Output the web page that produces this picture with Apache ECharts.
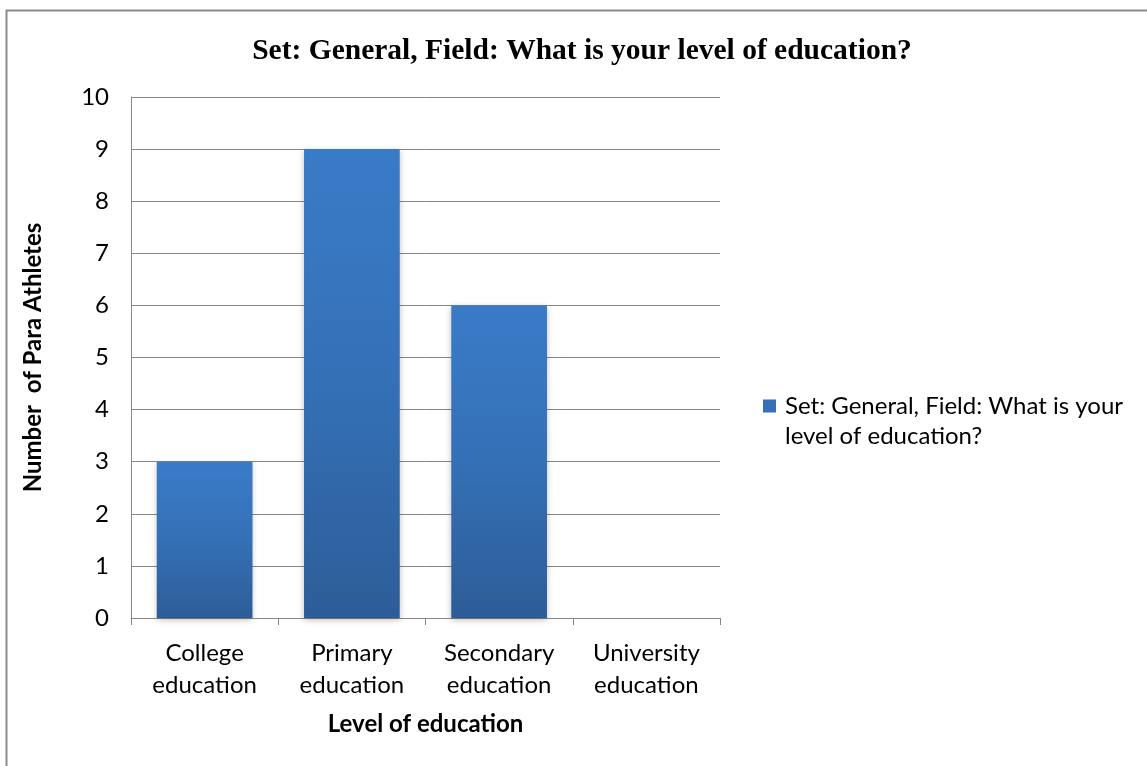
<!DOCTYPE html>
<html>
<head>
<meta charset="utf-8">
<script src="https://cdn.jsdelivr.net/npm/echarts@6/dist/echarts.min.js"></script>
<style>
html,body{margin:0;padding:0;background:#fff;}
#chart{width:1147px;height:766px;}
</style>
</head>
<body>
<div id="chart"></div>
<script>
const categories = ['College\neducation', 'Primary\neducation', 'Secondary\neducation', 'University\neducation'];
const values = [3, 9, 6, 0];
const seriesName = 'Set: General, Field: What is your level of education?';
const legendLines = ['Set: General, Field: What is your', 'level of education?'];
const titleText = 'Set: General, Field: What is your level of education?';
const yAxisName = 'Number  of Para Athletes';
const xAxisName = 'Level of education';

const chart = echarts.init(document.getElementById('chart'), null, {renderer: 'canvas'});
const labelFont = 'Lato, "Open Sans", sans-serif';
const fs = 24;
chart.setOption({
  animation: false,
  backgroundColor: '#fff',
  graphic: [{
    type: 'rect',
    shape: {x: 6.5, y: 10.5, width: 1200, height: 800},
    style: {fill: 'none', stroke: '#8c8c8c', lineWidth: 2},
    silent: true
  }, {
    type: 'text',
    left: 785, top: 424,
    style: {text: legendLines[1], font: fs + 'px ' + labelFont, fill: '#000'},
    silent: true
  }],
  title: {
    text: titleText,
    left: 577, top: 31, textAlign: 'center',
    textStyle: {fontFamily: '"Liberation Serif", serif', fontWeight: 'bold', fontSize: 29.5, color: '#000'}
  },
  legend: {
    orient: 'vertical',
    left: 758, top: 385,
    itemWidth: 13, itemHeight: 13, itemGap: 8,
    icon: 'rect',
    formatter: function () { return legendLines[0]; },
    textStyle: {fontFamily: labelFont, fontSize: fs, color: '#000', lineHeight: 32, padding: [0, 0, 0, 4]},
    data: [{name: seriesName, itemStyle: {color: '#3670b8'}}]
  },
  grid: {left: 131, right: 427, top: 97, bottom: 148},
  xAxis: {
    type: 'category',
    data: categories,
    name: xAxisName,
    nameLocation: 'middle',
    nameGap: 94,
    nameTextStyle: {fontFamily: labelFont, fontWeight: 'bold', fontSize: fs, color: '#000'},
    axisLine: {lineStyle: {color: '#868686', width: 1}},
    axisTick: {show: true, length: 7, lineStyle: {color: '#868686'}},
    axisLabel: {fontFamily: labelFont, fontSize: fs, color: '#000', lineHeight: 32, margin: 19},
    splitLine: {show: false}
  },
  yAxis: {
    type: 'value',
    min: 0, max: 10, interval: 1,
    name: yAxisName,
    nameLocation: 'middle',
    nameGap: 86,
    nameRotate: 90,
    nameTextStyle: {fontFamily: labelFont, fontWeight: 'bold', fontSize: fs, color: '#000'},
    axisLine: {show: true, lineStyle: {color: '#868686', width: 1}},
    axisTick: {show: false},
    axisLabel: {fontFamily: labelFont, fontSize: fs, color: '#000', margin: 22},
    splitLine: {lineStyle: {color: '#868686', width: 1}}
  },
  series: [{
    name: seriesName,
    type: 'bar',
    data: values,
    barWidth: '65%',
    itemStyle: {
      color: new echarts.graphic.LinearGradient(0, 0, 0, 1, [
        {offset: 0, color: '#3a7bc8'},
        {offset: 0.5, color: '#3470b6'},
        {offset: 1, color: '#2d5d98'}
      ]),
      shadowColor: 'rgba(0,0,0,0.25)',
      shadowBlur: 6,
      shadowOffsetX: 0,
      shadowOffsetY: 2
    }
  }]
});
</script>
</body>
</html>
